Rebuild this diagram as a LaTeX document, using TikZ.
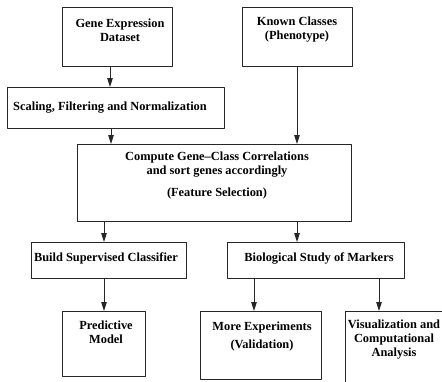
\documentclass[tikz,border=0pt]{standalone}
\usepackage{fontspec}
\setmainfont{Liberation Serif}
\usetikzlibrary{arrows.meta}
\begin{document}
\begin{tikzpicture}[x=1pt, y=-1pt, line join=round, >={Triangle[length=9pt,width=5.5pt]},
 box/.style={draw=black!85, line width=1.1pt, anchor=north west, inner sep=0pt},
 txt/.style={font=\fontsize{12.4}{14}\selectfont\bfseries, align=center, inner sep=0pt},
 arr/.style={->, line width=1pt, draw=black!85}]
 \useasboundingbox (0,0) rectangle (442,381);
 % boxes
 \node[box, minimum width=110, minimum height=59] (gene) at (62,7) {};
 \node[box, minimum width=110, minimum height=59] (known) at (242,7) {};
 \node[box, minimum width=217, minimum height=41] (scale) at (7,87) {};
 \node[box, minimum width=274, minimum height=77] (compute) at (77,144) {};
 \node[box, minimum width=155, minimum height=36] (build) at (31,242) {};
 \node[box, minimum width=177, minimum height=36] (bio) at (227,242) {};
 \node[box, minimum width=83, minimum height=65] (pred) at (62,311) {};
 \node[box, minimum width=121, minimum height=68] (more) at (200,311) {};
 \node[box, minimum width=99, minimum height=80] (vis) at (345,311) {};
 % texts
 \node[txt] (genetxt) at (120,30.5) {Gene Expression\\Dataset};
 \node[txt] (knowntxt) at (297,29.5) {Known Classes\\(Phenotype)};
 \node[txt] (scaletxt) at (110,107.5) {Scaling, Filtering and Normalization};
 \node[txt] (computetxt) at (217,176) {Compute Gene--Class Correlations\\and sort genes accordingly\\[8pt](Feature Selection)};
 \node[txt] (buildtxt) at (106,258) {Build Supervised Classifier};
 \node[txt] (biotxt) at (319,258) {Biological Study of Markers};
 \node[txt] (predtxt) at (106,332.5) {Predictive\\Model};
 \node[txt] (moretxt) at (262,337) {More Experiments\\[4pt](Validation)};
 \node[txt] (vistxt) at (394,340) {Visualization and\\Computational\\Analysis};
 % arrows
 \foreach \a/\b/\x in {gene/scale/110, scale/compute/111, known/compute/297,
   compute/build/104, build/pred/104, compute/bio/297, bio/more/254, bio/vis/379}
  \draw[arr] (\a.south -| \x,0) -- (\b.north -| \x,0);
\end{tikzpicture}
\end{document}
